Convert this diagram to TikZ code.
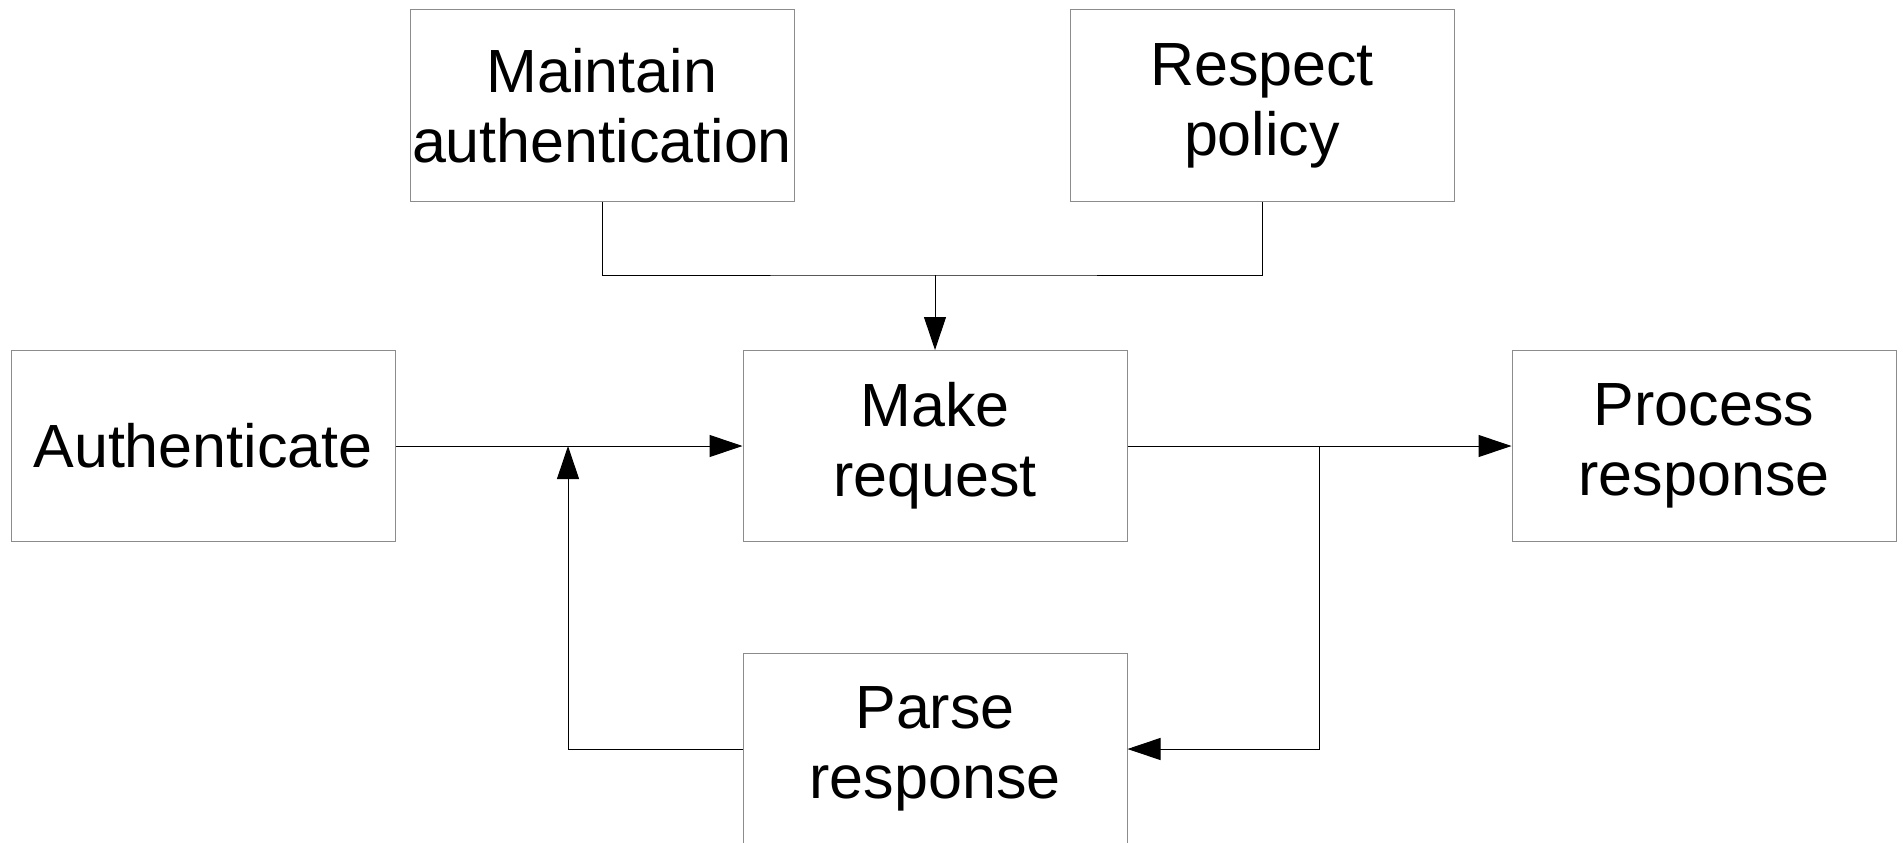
\documentclass[tikz,border=0pt]{standalone}
\usepackage{fontspec}
\setmainfont{Liberation Sans}
\usetikzlibrary{arrows.meta,positioning}
\tikzstyle{task}=[draw=black!45,line width=1pt,fill=white,minimum width=384pt,
  minimum height=191pt,inner sep=0pt,align=center,
  font=\fontsize{61}{70}\selectfont]
\tikzstyle{flow}=[line width=1pt]

\begin{document}
\begin{tikzpicture}[x=1pt, y=-1pt, >={Triangle[length=33pt,width=22pt]},
    node distance=330pt, on grid]
  \useasboundingbox (0,0) rectangle (1903,843);

  \node[task] (make) at (935,446) {Make\\request};
  \node[task, left=732pt of make] (auth) {Authenticate};
  \node[task, right=769pt of make] (proc) {Process\\response};
  \node[task, above left=340.5pt and 333pt of make] (maint) {Maintain\\authentication};
  \node[task, above right=340.5pt and 327pt of make] (resp) {Respect\\policy};
  \node[task, below=303pt of make] (parse) {Parse\\response};

  \coordinate (merge) at (make.north |- 0,275);
  \coordinate (split) at (1319,446);
  \coordinate (back) at (568,446);

  \draw[flow] (maint.south) |- (merge) -| (resp.south);
  \draw[flow,->] (merge) -- (make.north);
  \draw[flow,->] (auth) -- (make);
  \draw[flow,->] (make) -- (proc);
  \draw[flow,->] (split) |- (parse.east);
  \draw[flow,->] (parse.west) -| (back);
\end{tikzpicture}
\end{document}
